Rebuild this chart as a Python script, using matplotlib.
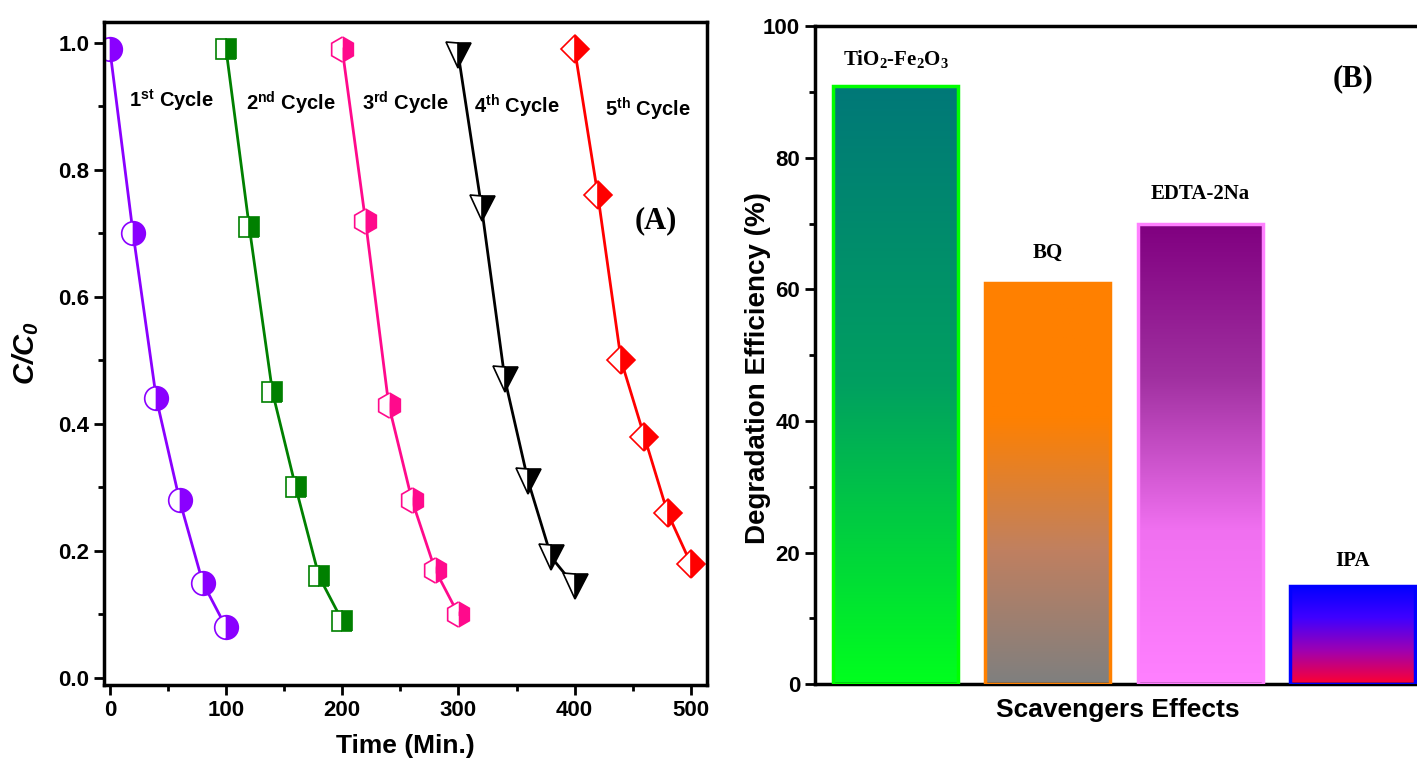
import matplotlib
matplotlib.use("Agg")
import matplotlib.pyplot as plt
import numpy as np
from matplotlib.colors import LinearSegmentedColormap
from matplotlib.ticker import MultipleLocator

# panel A data: C/C0 over five reuse cycles
time_c1 = [0, 20, 40, 60, 80, 100]
time_c2 = [100, 120, 140, 160, 180, 200]
time_c3 = [200, 220, 240, 260, 280, 300]
time_c4 = [300, 320, 340, 360, 380, 400]
time_c5 = [400, 420, 440, 460, 480, 500]
cc0_c1 = [0.99, 0.70, 0.44, 0.28, 0.15, 0.08]
cc0_c2 = [0.99, 0.71, 0.45, 0.30, 0.16, 0.09]
cc0_c3 = [0.99, 0.72, 0.43, 0.28, 0.17, 0.10]
cc0_c4 = [0.98, 0.74, 0.47, 0.31, 0.19, 0.145]
cc0_c5 = [0.99, 0.76, 0.50, 0.38, 0.26, 0.18]
cycle_names = ["1$^{st}$ Cycle", "2$^{nd}$ Cycle", "3$^{rd}$ Cycle", "4$^{th}$ Cycle", "5$^{th}$ Cycle"]

# panel B data: scavenger test
scavengers = ["TiO$_2$-Fe$_2$O$_3$", "BQ", "EDTA-2Na", "IPA"]
efficiency = [91, 61, 70, 15]

plt.rcParams["font.family"] = ["Liberation Sans", "DejaVu Sans"]
plt.rcParams["mathtext.default"] = "regular"
serif = ["Liberation Serif", "DejaVu Serif"]

fig = plt.figure(figsize=(14.17, 7.74), dpi=100)
axA = fig.add_axes([0.0734, 0.115, 0.4256, 0.857])
axB = fig.add_axes([0.575, 0.116, 0.428, 0.850])

# ---- panel A ----
times = [time_c1, time_c2, time_c3, time_c4, time_c5]
vals = [cc0_c1, cc0_c2, cc0_c3, cc0_c4, cc0_c5]
colors = ["#8a00ff", "#008000", "#ff0a8c", "#000000", "#ff0000"]
markers = ["o", "s", "h", "v", "D"]
msizes = [17, 15, 18, 18, 14]
for t, v, c, m, ms in zip(times, vals, colors, markers, msizes):
    axA.plot(t, v, color=c, lw=2, marker=m, ms=ms, fillstyle="right",
             markerfacecoloralt="white", markeredgecolor=c, markeredgewidth=1.2)

label_pos = [(53, 0.91), (156, 0.905), (254, 0.905), (350, 0.90), (463, 0.895)]
for (x, y), name in zip(label_pos, cycle_names):
    axA.text(x, y, name, ha="center", va="center", fontsize=14.5, fontweight="bold")
axA.text(470, 0.72, "(A)", ha="center", va="center", fontsize=22, fontweight="bold",
         family=serif)

axA.set_xlim(-5, 514)
axA.set_ylim(-0.011, 1.033)
axA.xaxis.set_major_locator(MultipleLocator(100))
axA.xaxis.set_minor_locator(MultipleLocator(50))
axA.yaxis.set_minor_locator(MultipleLocator(0.1))
axA.set_yticks([0.0, 0.2, 0.4, 0.6, 0.8, 1.0])
axA.set_yticklabels(["0.0", "0.2", "0.4", "0.6", "0.8", "1.0"])
axA.set_xlabel("Time (Min.)", fontsize=19, fontweight="bold", labelpad=10)
axA.set_ylabel("C/C$_0$", fontsize=21, fontweight="bold", style="italic")
axA.yaxis.set_label_coords(-0.105, 0.5)

# ---- panel B ----
x = np.arange(len(scavengers))
bar_cmaps = [
    LinearSegmentedColormap.from_list("g", ["#00ff1e", "#00a060", "#007878"]),
    LinearSegmentedColormap.from_list("o", ["#7f7f7f", "#c08060", "#ff8000", "#ff8000"]),
    LinearSegmentedColormap.from_list("p", ["#ff80ff", "#f070f0", "#a030a0", "#800080"]),
    LinearSegmentedColormap.from_list("b", ["#ff0030", "#a000b0", "#4000ff", "#0000ff"]),
]
edge_cols = ["#00ff00", "#ff8000", "#ff80ff", "#0000ff"]
bars = axB.bar(x, efficiency, width=0.82, color="none", edgecolor=edge_cols, linewidth=2.5, zorder=3)
grad = np.linspace(0, 1, 256).reshape(-1, 1)
for b, cm in zip(bars, bar_cmaps):
    x0, y0 = b.get_x(), b.get_y()
    w, h = b.get_width(), b.get_height()
    axB.imshow(grad, cmap=cm, aspect="auto", origin="lower",
               extent=[x0, x0 + w, y0, y0 + h], zorder=2)

label_y = [95, 65.5, 74.5, 18.7]
for xi, ly, name in zip(x, label_y, scavengers):
    axB.text(xi, ly, name, ha="center", va="center", fontsize=15, fontweight="bold",
             family=serif)
axB.text(3.0, 92, "(B)", ha="center", va="center", fontsize=22, fontweight="bold",
         family=serif)

axB.set_xlim(-0.53, 3.45)
axB.set_ylim(0, 100)
axB.set_xticks([])
axB.yaxis.set_major_locator(MultipleLocator(20))
axB.yaxis.set_minor_locator(MultipleLocator(10))
axB.set_xlabel("Scavengers Effects", fontsize=19, fontweight="bold", labelpad=10)
axB.set_ylabel("Degradation Efficiency (%)", fontsize=20, fontweight="bold")
axB.yaxis.set_label_coords(-0.072, 0.48)

for ax in (axA, axB):
    for s in ax.spines.values():
        s.set_linewidth(2.5)
    ax.tick_params(which="both", direction="out", width=2)
    ax.tick_params(which="major", length=7, labelsize=16)
    ax.tick_params(which="minor", length=4)
    for lab in ax.get_xticklabels() + ax.get_yticklabels():
        lab.set_fontweight("bold")

fig.savefig("out.png", dpi=100)
